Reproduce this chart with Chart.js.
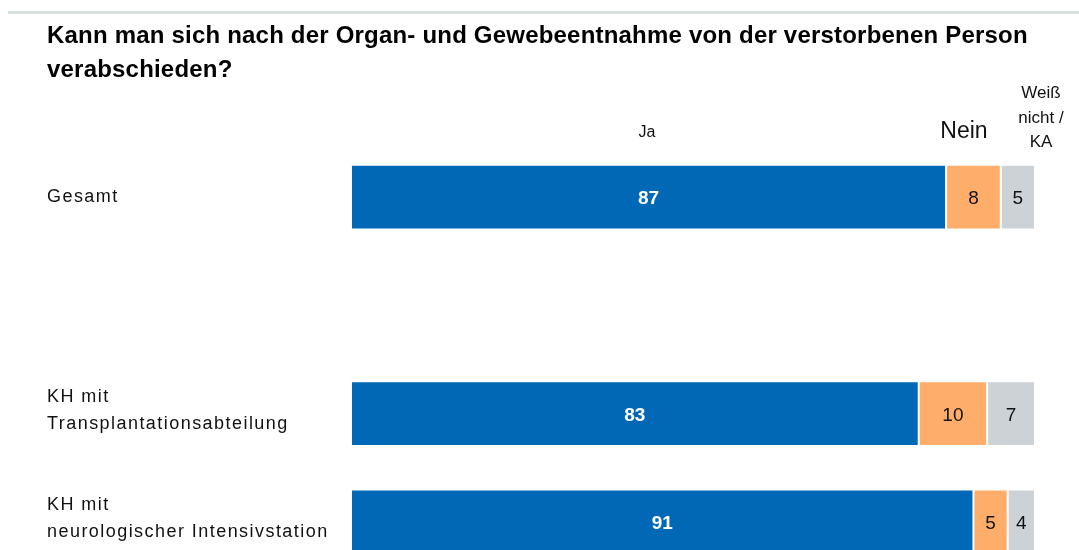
<!DOCTYPE html>
<html>
<head>
<meta charset="utf-8">
<script src="https://cdn.jsdelivr.net/npm/chart.js@4"></script>
<style>
    body { margin: 0; overflow: hidden; background: #fff; }
    #wrap { position: absolute; left: 0; top: 0; width: 1079px; height: 600px; }
</style>
</head>
<body>
<div id="wrap"><canvas id="chart" width="1079" height="600"></canvas></div>
<script>
// Daten
const categories = [
    ["Gesamt"],
    [""],
    ["KH mit", "Transplantationsabteilung"],
    ["KH mit", "neurologischer Intensivstation"]
];
const jaValues = [87, null, 83, 91];
const neinValues = [8, null, 10, 5];
const weissNichtValues = [5, null, 7, 4];
const seriesNames = ["Ja", "Nein", "Weiß nicht / KA"];
const titleLines = [
    "Kann man sich nach der Organ- und Gewebeentnahme von der verstorbenen Person",
    "verabschieden?"
];

const FONT = '"Liberation Sans", Arial, sans-serif';

// Texte (Titel, Kopfzeilen, Beschriftungen)
const textPlugin = {
    id: "texts",
    afterDraw(chart) {
        const ctx = chart.ctx;
        const yScale = chart.scales.y;
        ctx.save();

        // graue Linie oben
        ctx.fillStyle = "#d6dfdc";
        ctx.fillRect(8, 11, 1071, 3);

        // Titel
        ctx.fillStyle = "#000";
        ctx.textAlign = "left";
        ctx.textBaseline = "alphabetic";
        ctx.font = "bold 24px " + FONT;
        ctx.letterSpacing = "0.2px";
        ctx.fillText(titleLines[0], 47, 43);
        ctx.fillText(titleLines[1], 47, 77);
        ctx.letterSpacing = "0px";

        // Spaltenköpfe
        ctx.textAlign = "center";
        ctx.fillStyle = "#111";
        ctx.font = "16px " + FONT;
        ctx.fillText(seriesNames[0], 647, 137);
        ctx.font = "23px " + FONT;
        ctx.fillText(seriesNames[1], 964, 138);
        ctx.font = "17px " + FONT;
        ["Weiß", "nicht /", "KA"].forEach((t, i) => ctx.fillText(t, 1041, 98 + i * 24.5));

        // Kategorien
        ctx.textAlign = "left";
        ctx.textBaseline = "middle";
        ctx.font = "18px " + FONT;
        ctx.letterSpacing = "1.45px";
        categories.forEach((lines, i) => {
            const cy = yScale.getPixelForValue(i);
            const lh = 27;
            const start = cy - (lines.length - 1) * lh / 2 - (lines.length > 1 ? 3 : 0);
            lines.forEach((l, j) => ctx.fillText(l, 47, start + j * lh));
        });
        ctx.letterSpacing = "0px";

        // Werte
        ctx.textAlign = "center";
        chart.data.datasets.forEach((ds, di) => {
            const meta = chart.getDatasetMeta(di);
            meta.data.forEach((el, i) => {
                const v = ds.data[i];
                if (v == null) return;
                const cx = (el.x + el.base) / 2;
                if (di === 0) {
                    ctx.font = "bold 19px " + FONT;
                    ctx.fillStyle = "#fff";
                } else {
                    ctx.font = "19px " + FONT;
                    ctx.fillStyle = "#111";
                }
                ctx.fillText(String(v), cx, el.y + 2);
            });
        });
        ctx.restore();
    }
};

const ctx = document.getElementById("chart").getContext("2d");
new Chart(ctx, {
    type: "bar",
    data: {
        labels: categories,
        datasets: [
            { label: seriesNames[0], data: jaValues, backgroundColor: "#0068b4" },
            { label: seriesNames[1], data: neinValues, backgroundColor: "#feae6a" },
            { label: seriesNames[2], data: weissNichtValues, backgroundColor: "#cdd2d7" }
        ]
    },
    options: {
        indexAxis: "y",
        responsive: false,
        animation: false,
        layout: { padding: { left: 351, right: 44, top: 143, bottom: 24 } },
        datasets: {
            bar: {
                barPercentage: 0.6,
                categoryPercentage: 1,
                borderColor: "#ffffff",
                borderWidth: 1,
                borderSkipped: false
            }
        },
        scales: {
            x: { stacked: true, min: 0, max: 100, display: false },
            y: { stacked: true, display: false }
        },
        plugins: {
            legend: { display: false },
            tooltip: { enabled: false }
        }
    },
    plugins: [textPlugin]
});
</script>
</body>
</html>
